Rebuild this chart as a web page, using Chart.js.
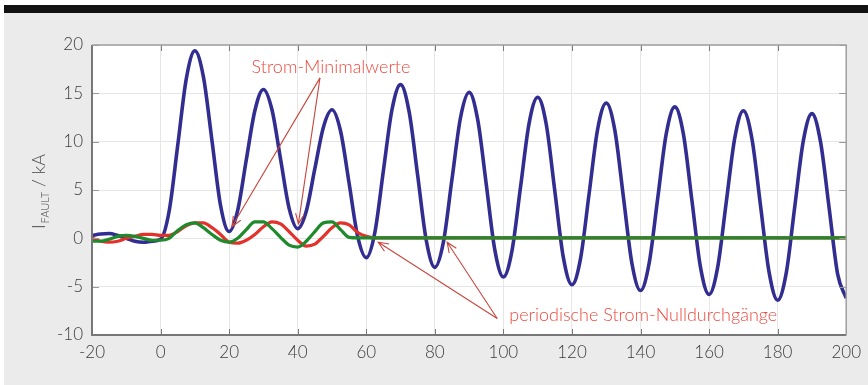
<!DOCTYPE html>
<html>
<head>
<meta charset="utf-8">
<script src="https://cdn.jsdelivr.net/npm/chart.js@4/dist/chart.umd.min.js"></script>
<style>
  html, body { margin: 0; padding: 0; background: #fff; }
  #bar { position: absolute; left: 4px; top: 5px; width: 864px; height: 8px; background: #121212; }
  #panel { position: absolute; left: 4px; top: 13px; width: 864px; height: 372px; background: #ebebeb; }
  #wrap { position: absolute; left: 0; top: 0; width: 868px; height: 385px; }
</style>
</head>
<body>
<div id="bar"></div>
<div id="panel"></div>
<div id="wrap"><canvas id="myChart" width="868" height="385"></canvas></div>
<script>
// time in ms
const tBlue = [-20, -17.5, -15, -12.5, -10, -7.5, -5, -2.5, 0, 2.5, 5, 7.5, 10, 12.5, 15, 17.5,
  20, 22.5, 25, 27.5, 30, 32.5, 35, 37.5, 40, 42.5, 45, 47.5, 50, 52.5, 55, 57.5,
  60, 62.5, 65, 67.5, 70, 72.5, 75, 77.5, 80, 82.5, 85, 87.5, 90, 92.5, 95, 97.5,
  100, 102.5, 105, 107.5, 110, 112.5, 115, 117.5, 120, 122.5, 125, 127.5, 130, 132.5, 135, 137.5,
  140, 142.5, 145, 147.5, 150, 152.5, 155, 157.5, 160, 162.5, 165, 167.5, 170, 172.5, 175, 177.5,
  180, 182.5, 185, 187.5, 190, 192.5, 195, 197.5, 200];
const blue = [0.3, 0.45, 0.5, 0.3, 0.0, -0.3, -0.4, -0.3, -0.1, 2.8, 9.6, 16.5, 19.4, 16.7, 10.1, 3.4,
  0.7, 2.9, 8.1, 13.2, 15.4, 13.3, 8.2, 3.1, 1.0, 2.8, 7.2, 11.5, 13.3, 11.1, 5.7, 0.2,
  -2.0, 0.6, 7.0, 13.3, 15.9, 13.1, 6.5, -0.2, -3.0, -0.4, 6.1, 12.5, 15.1, 12.3, 5.6, -1.2,
  -4.0, -1.3, 5.3, 11.9, 14.6, 11.8, 4.9, -2.0, -4.8, -2.1, 4.6, 11.3, 14.0, 11.2, 4.3, -2.6,
  -5.4, -2.6, 4.1, 10.8, 13.6, 10.8, 3.9, -3.0, -5.8, -3.0, 3.7, 10.4, 13.2, 10.3, 3.4, -3.5,
  -6.4, -3.6, 3.3, 10.1, 12.9, 10.0, 3.2, -3.7, -6.2];

const tPhase = [-20, -17.5, -15, -12.5, -10, -7.5, -5, -2.5, 0, 2.5, 5, 7.5, 10, 12.5, 15, 17.5,
  20, 22.5, 25, 27.5, 30, 32.5, 35, 37.5, 40, 42.5, 45, 47.5, 50, 52.5, 55, 57.5, 60, 62.5, 200];
const red = [0.0, -0.3, -0.4, -0.3, 0.0, 0.2, 0.4, 0.4, 0.3, 0.3, 0.7, 1.3, 1.6, 1.6, 1.1, 0.4,
  -0.4, -0.5, -0.2, 0.4, 1.2, 1.7, 1.5, 0.7, -0.2, -0.8, -0.6, 0.2, 1.1, 1.6, 1.4, 0.6, 0.2, 0.05, 0.05];
const green = [-0.3, -0.3, -0.1, 0.2, 0.3, 0.2, 0.0, -0.2, -0.2, 0.0, 0.8, 1.4, 1.6, 1.1, 0.4, -0.2,
  -0.4, 0.0, 0.9, 1.7, 1.7, 1.0, 0.1, -0.7, -0.9, -0.3, 0.7, 1.6, 1.7, 0.9, 0.1, 0.05, 0.05, 0.05, 0.05];

const xTicks = [-20, 0, 20, 40, 60, 80, 100, 120, 140, 160, 180, 200];
const yTicks = [-10, -5, 0, 5, 10, 15, 20];

// annotations in data units: text position, arrow start, arrow tips
const noteMin = { text: 'Strom-Minimalwerte', x: 49.7, y: 17.7, from: [46.5, 16.6], tips: [[20.8, 1.2], [40.2, 1.5]] };
const noteZero = { text: 'periodische Strom-Nulldurchgänge', x: 140.8, y: -8.0, from: [98.2, -8.3], tips: [[63.5, -0.4], [83.6, -0.4]] };

const pts = (t, v) => t.map((x, i) => ({ x: x, y: v[i] }));

const frame = {
  id: 'frame',
  beforeDraw(chart) {
    const a = chart.chartArea, c = chart.ctx;
    c.save();
    c.fillStyle = '#ffffff';
    c.fillRect(a.left, a.top, a.right - a.left, a.bottom - a.top);
    c.restore();
  },
  afterDatasetsDraw(chart) {
    const a = chart.chartArea, c = chart.ctx;
    const xs = chart.scales.x, ys = chart.scales.y;
    c.save();
    c.strokeStyle = '#7a7a7a';
    c.lineWidth = 1;
    xTicks.forEach(v => {
      const px = Math.round(xs.getPixelForValue(v)) + 0.5;
      c.beginPath();
      c.moveTo(px, a.bottom); c.lineTo(px, a.bottom - 6);
      c.moveTo(px, a.top); c.lineTo(px, a.top + 6);
      c.stroke();
    });
    c.strokeStyle = '#9a9a9a';
    yTicks.forEach(v => {
      const py = Math.round(ys.getPixelForValue(v)) + 0.5;
      c.beginPath();
      c.moveTo(a.left, py); c.lineTo(a.left + 7, py);
      c.moveTo(a.right, py); c.lineTo(a.right - 7, py);
      c.stroke();
    });
    c.lineWidth = 2;
    c.strokeStyle = '#777777';
    c.beginPath();
    c.moveTo(a.left, a.top); c.lineTo(a.left, a.bottom); c.lineTo(a.right, a.bottom);
    c.stroke();
    c.strokeStyle = '#a0a0a0';
    c.lineWidth = 1.5;
    c.beginPath();
    c.moveTo(a.left, a.top); c.lineTo(a.right, a.top); c.lineTo(a.right, a.bottom);
    c.stroke();

    // annotations
    [noteMin, noteZero].forEach(n => {
      const fx = xs.getPixelForValue(n.from[0]), fy = ys.getPixelForValue(n.from[1]);
      c.strokeStyle = '#c8463c';
      c.lineWidth = 1.1;
      n.tips.forEach(tp => {
        const tx = xs.getPixelForValue(tp[0]), ty = ys.getPixelForValue(tp[1]);
        const ang = Math.atan2(ty - fy, tx - fx);
        c.beginPath();
        c.moveTo(fx, fy); c.lineTo(tx, ty);
        c.moveTo(tx - 11 * Math.cos(ang - 0.4), ty - 11 * Math.sin(ang - 0.4));
        c.lineTo(tx, ty);
        c.lineTo(tx - 11 * Math.cos(ang + 0.4), ty - 11 * Math.sin(ang + 0.4));
        c.stroke();
      });
      c.fillStyle = '#ee4a3e';
      c.font = '300 18px Lato, "Open Sans", sans-serif';
      c.textAlign = 'center';
      c.textBaseline = 'middle';
      c.fillText(n.text, xs.getPixelForValue(n.x), ys.getPixelForValue(n.y));
    });

    // y axis title with subscript
    c.translate(38, 192);
    c.rotate(-Math.PI / 2);
    c.fillStyle = '#444444';
    c.textBaseline = 'alphabetic';
    c.textAlign = 'left';
    const big = '300 18px Lato, "Open Sans", sans-serif';
    const small = '300 11px Lato, "Open Sans", sans-serif';
    c.font = big; const w1 = c.measureText('I').width;
    c.font = small; const w2 = c.measureText('FAULT').width;
    c.font = big; const w3 = c.measureText(' / kA').width;
    let x0 = -(w1 + w2 + w3) / 2;
    const base = 7;
    c.font = big; c.fillText('I', x0, base); x0 += w1 + 1;
    c.font = small; c.fillText('FAULT', x0, base + 4); x0 += w2;
    c.font = big; c.fillText(' / kA', x0, base);
    c.restore();
  }
};

const ctx = document.getElementById('myChart').getContext('2d');
const myChart = new Chart(ctx, {
  type: 'line',
  data: {
    datasets: [
      { label: 'green', data: pts(tPhase, green), borderColor: '#1f8a2c', borderWidth: 3.2 },
      { label: 'red', data: pts(tPhase, red), borderColor: '#e3322b', borderWidth: 3.2 },
      { label: 'blue', data: pts(tBlue, blue), borderColor: '#322d90', borderWidth: 3.6 }
    ]
  },
  options: {
    responsive: false,
    animation: false,
    elements: { point: { radius: 0 }, line: { cubicInterpolationMode: 'monotone' } },
    layout: { padding: { left: 0, right: 21, top: 45, bottom: 0 } },
    plugins: { legend: { display: false }, tooltip: { enabled: false } },
    scales: {
      x: {
        type: 'linear',
        min: -20, max: 200,
        afterBuildTicks: s => { s.ticks = xTicks.map(v => ({ value: v })); },
        afterFit: s => { s.height = 50; },
        grid: { color: '#e6e6e6', drawTicks: false },
        border: { display: false },
        ticks: { padding: 7, color: '#3c3c3c', font: { family: 'Lato', size: 17, weight: 300 } }
      },
      y: {
        min: -10, max: 20,
        afterBuildTicks: s => { s.ticks = yTicks.map(v => ({ value: v })); },
        afterFit: s => { s.width = 92; },
        grid: { color: '#e6e6e6', drawTicks: false },
        border: { display: false },
        ticks: { padding: 9, color: '#3c3c3c', font: { family: 'Lato', size: 17, weight: 300 } }
      }
    }
  },
  plugins: [frame]
});
</script>
</body>
</html>
